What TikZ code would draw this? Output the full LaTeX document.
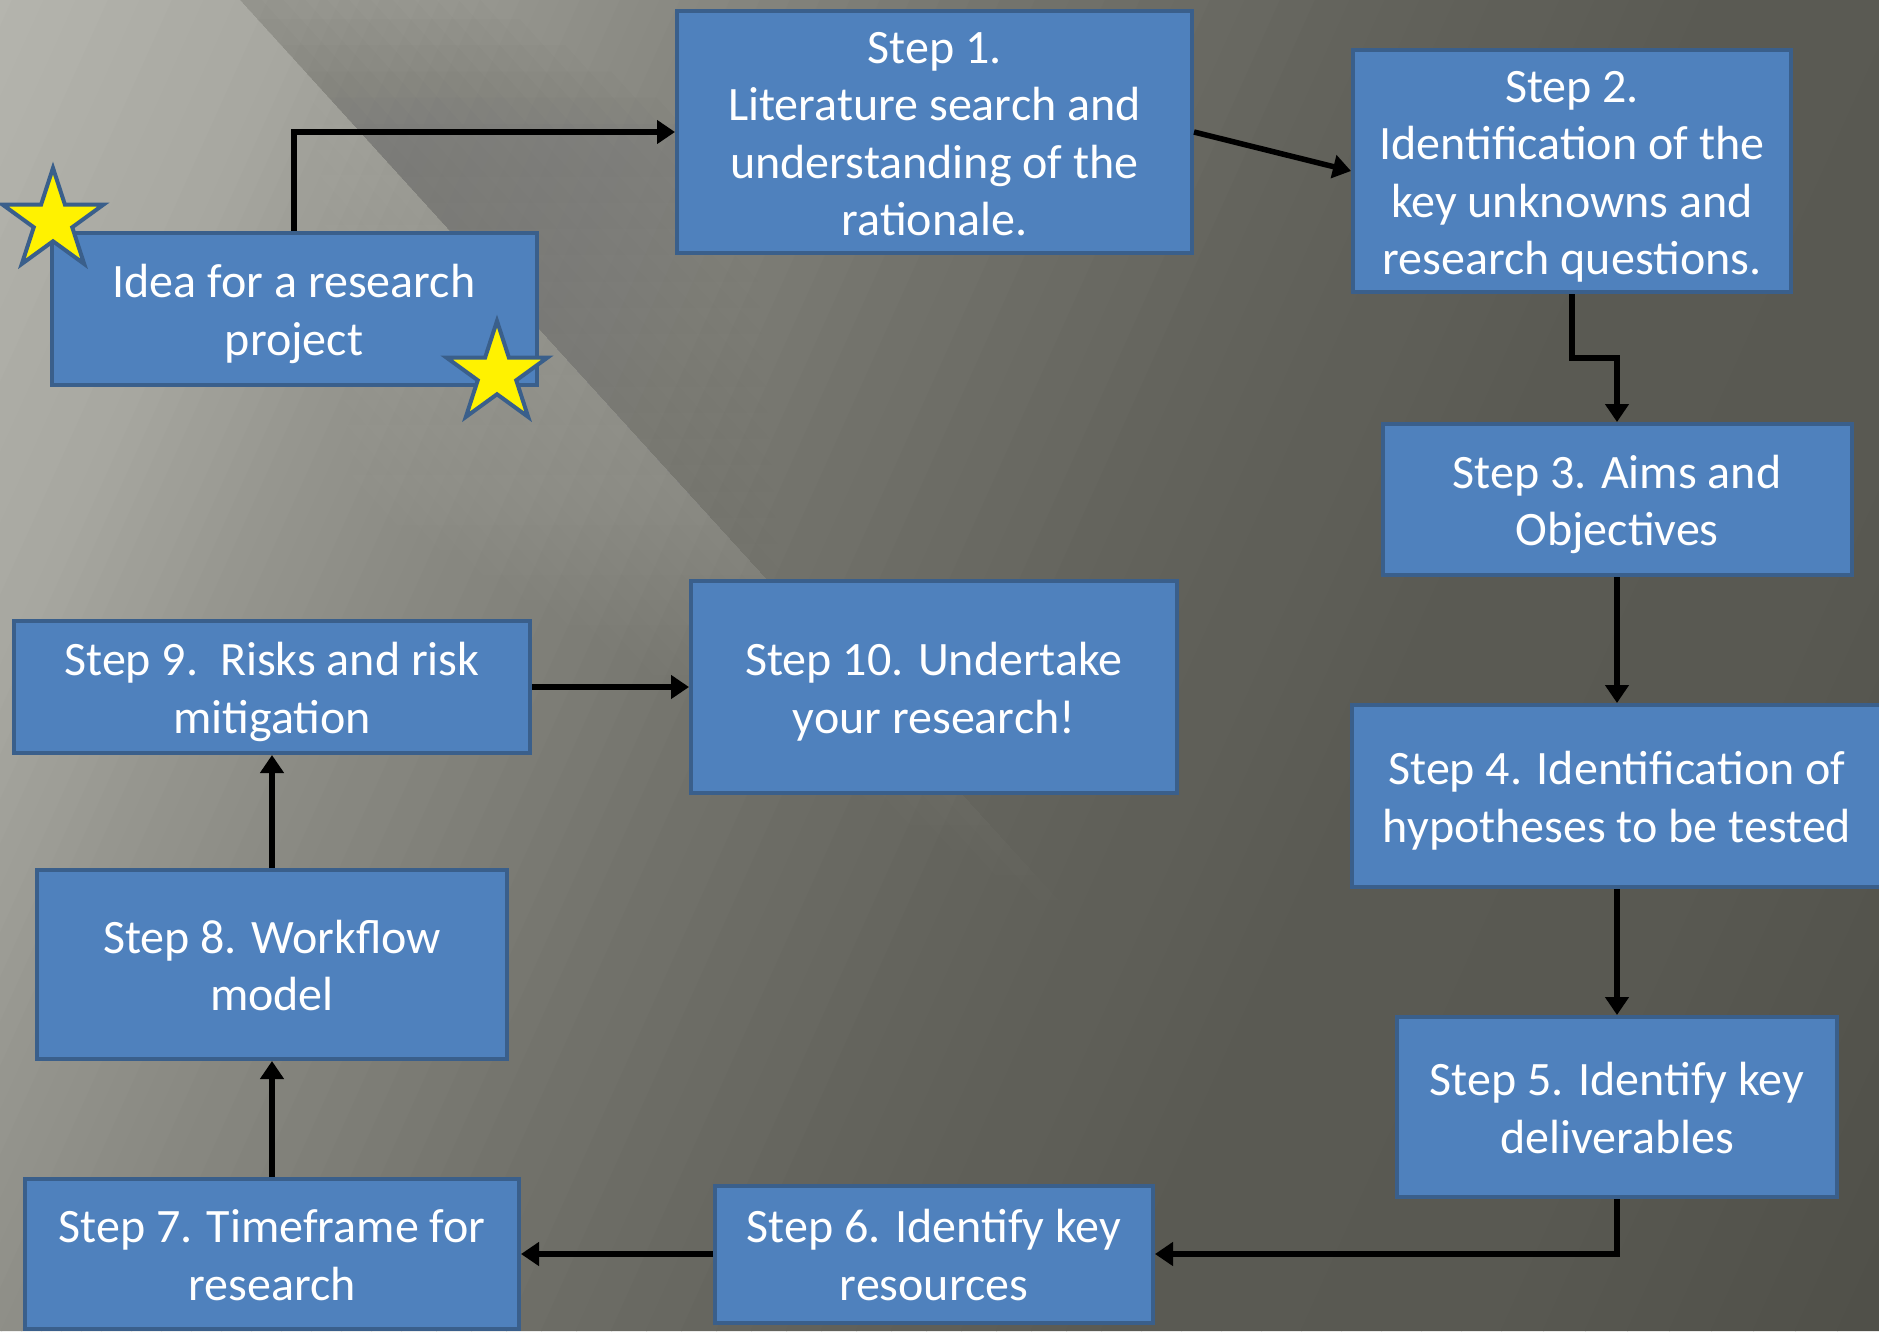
\documentclass[tikz,border=0pt]{standalone}
\usepackage{fontspec}
\setmainfont{Carlito}
\usetikzlibrary{arrows.meta,shapes.geometric,calc}
\definecolor{boxblue}{HTML}{4F81BD}
\definecolor{boxedge}{HTML}{3A5F8B}
\newcommand{\topstrutx}{\rule{0pt}{0.97em}}
\newcommand{\botstrutx}{\rule[-0.25em]{0pt}{0pt}}
% soft streak: colour #1, sharp edge on the line x = #2 + y/#3, fading sideways over #4
% (negative = to the right), peak opacity #5, centred at y=#6, fading along its length over #7
\newcommand{\streak}[7]{%
  \foreach \k in {1,...,16} {
    \pgfmathsetmacro\op{#5/16}
    \pgfmathsetmacro\xl{#2-\k*#4/16}
    \pgfmathsetmacro\ya{#6-(17-\k)*#7/16}
    \pgfmathsetmacro\yb{#6+(17-\k)*#7/16}
    \fill[#1, opacity=\op] ({\xl+\ya/#3},\ya) -- ({#2+\ya/#3},\ya) -- ({#2+\yb/#3},\yb) -- ({\xl+\yb/#3},\yb) -- cycle;
  }}
\begin{document}
\begin{tikzpicture}[x=1pt,y=-1pt,
  stepbox/.style={draw=boxedge, line width=4pt, fill=boxblue, text=white, align=center,
    font=\fontsize{48}{57.5}\selectfont, inner sep=0pt},
  conn/.style={line width=5.5pt, draw=black, -{Triangle[width=23pt,length=18pt]}},
  starshape/.style={star, star points=5, star point ratio=2.618, minimum size=106pt,
    inner sep=0pt, fill=yellow, draw=boxedge, line width=4pt}]
\useasboundingbox (0,0) rectangle (1879,1331);
\begin{scope}
\clip (0,0) rectangle (1879,1331);
% base: grey falling off along the direction (1,0.45)
\foreach \sa/\ga/\sb/\gb in {-20/182/300/168, 300/168/500/150, 500/150/700/136, 700/136/1000/116,
    1000/116/1350/100, 1350/100/1700/91, 1700/91/2100/89, 2100/89/2520/79} {
  \foreach \i in {0,...,9} {
    \pgfmathsetmacro\sone{\sa+\i*(\sb-\sa)/10}
    \pgfmathsetmacro\stwo{\sa+(\i+1)*(\sb-\sa)/10+1}
    \pgfmathtruncatemacro\gv{\ga+(\i+0.5)*(\gb-\ga)/10}
    \pgfmathtruncatemacro\gbl{\gv-7}
    \definecolor{bgc}{RGB}{\gv,\gv,\gbl}
    \fill[bgc] (\sone,0) -- (\stwo,0) -- ({\stwo-599},1331) -- ({\sone-599},1331) -- cycle;
  }
}
\streak{black}{240}{1.1}{-350}{0.10}{150}{420}
\streak{white}{240}{1.1}{320}{0.16}{500}{400}
\streak{white}{-126}{1.12}{240}{0.09}{1000}{350}
\streak{white}{-420}{1.26}{220}{0.07}{1200}{300}
\streak{white}{450}{1.0}{300}{0.05}{750}{350}
\end{scope}

\node[stepbox, minimum width=485pt, minimum height=152pt] (idea) at (294,309) {\topstrutx Idea for a research\\project\botstrutx};
\node[stepbox, minimum width=515pt, minimum height=242pt] (s1) at (934.5,132) {\topstrutx Step 1.\\Literature search and\\understanding of the\\rationale.\botstrutx};
\node[stepbox, minimum width=438pt, minimum height=242pt] (s2) at (1572,171) {\topstrutx Step 2.\\Identification of the\\key unknowns and\\research questions.\botstrutx};
\node[stepbox, minimum width=469pt, minimum height=151pt] (s3) at (1617,499.5) {\topstrutx Step 3. Aims and\\Objectives\botstrutx};
\node[stepbox, minimum width=530pt, minimum height=182pt] (s4) at (1617,796) {\topstrutx Step 4. Identification of\\hypotheses to be tested\botstrutx};
\node[stepbox, minimum width=440pt, minimum height=180pt] (s5) at (1617,1107) {\topstrutx Step 5. Identify key\\deliverables\botstrutx};
\node[stepbox, minimum width=438pt, minimum height=137pt] (s6) at (934,1254) {\topstrutx Step 6. Identify key\\resources\botstrutx};
\node[stepbox, minimum width=494pt, minimum height=150pt] (s7) at (272,1254) {\topstrutx Step 7. Timeframe for\\research\botstrutx};
\node[stepbox, minimum width=470pt, minimum height=189pt] (s8) at (272,964.5) {\topstrutx Step 8. Workflow\\model\botstrutx};
\node[stepbox, minimum width=516pt, minimum height=132pt] (s9) at (272,687) {\topstrutx Step 9.\ \ Risks and risk\\mitigation\botstrutx};
\node[stepbox, minimum width=486pt, minimum height=212pt] (s10) at (934,687) {\topstrutx Step 10. Undertake\\your research!\botstrutx};

\node[starshape] (star1) at (53,221) {};
\node[starshape] (star2) at (497,374) {};

\draw[conn] (idea.north) |- (s1.west);
\draw[conn] (s1.east) -- (s2.west);
\coordinate (m23) at ($(s2.south)!0.5!(s3.north)$);
\draw[conn] (s2.south) |- (m23) -| (s3.north);
\draw[conn] (s3.south) -- (s4.north);
\draw[conn] (s4.south) -- (s5.north);
\draw[conn] (s5.south) |- (s6.east);
\draw[conn] (s6.west) -- (s7.east);
\draw[conn] (s7.north) -- (s8.south);
\draw[conn] (s8.north) -- (s9.south);
\draw[conn] (s9.east) -- (s10.west);
\end{tikzpicture}
\end{document}
